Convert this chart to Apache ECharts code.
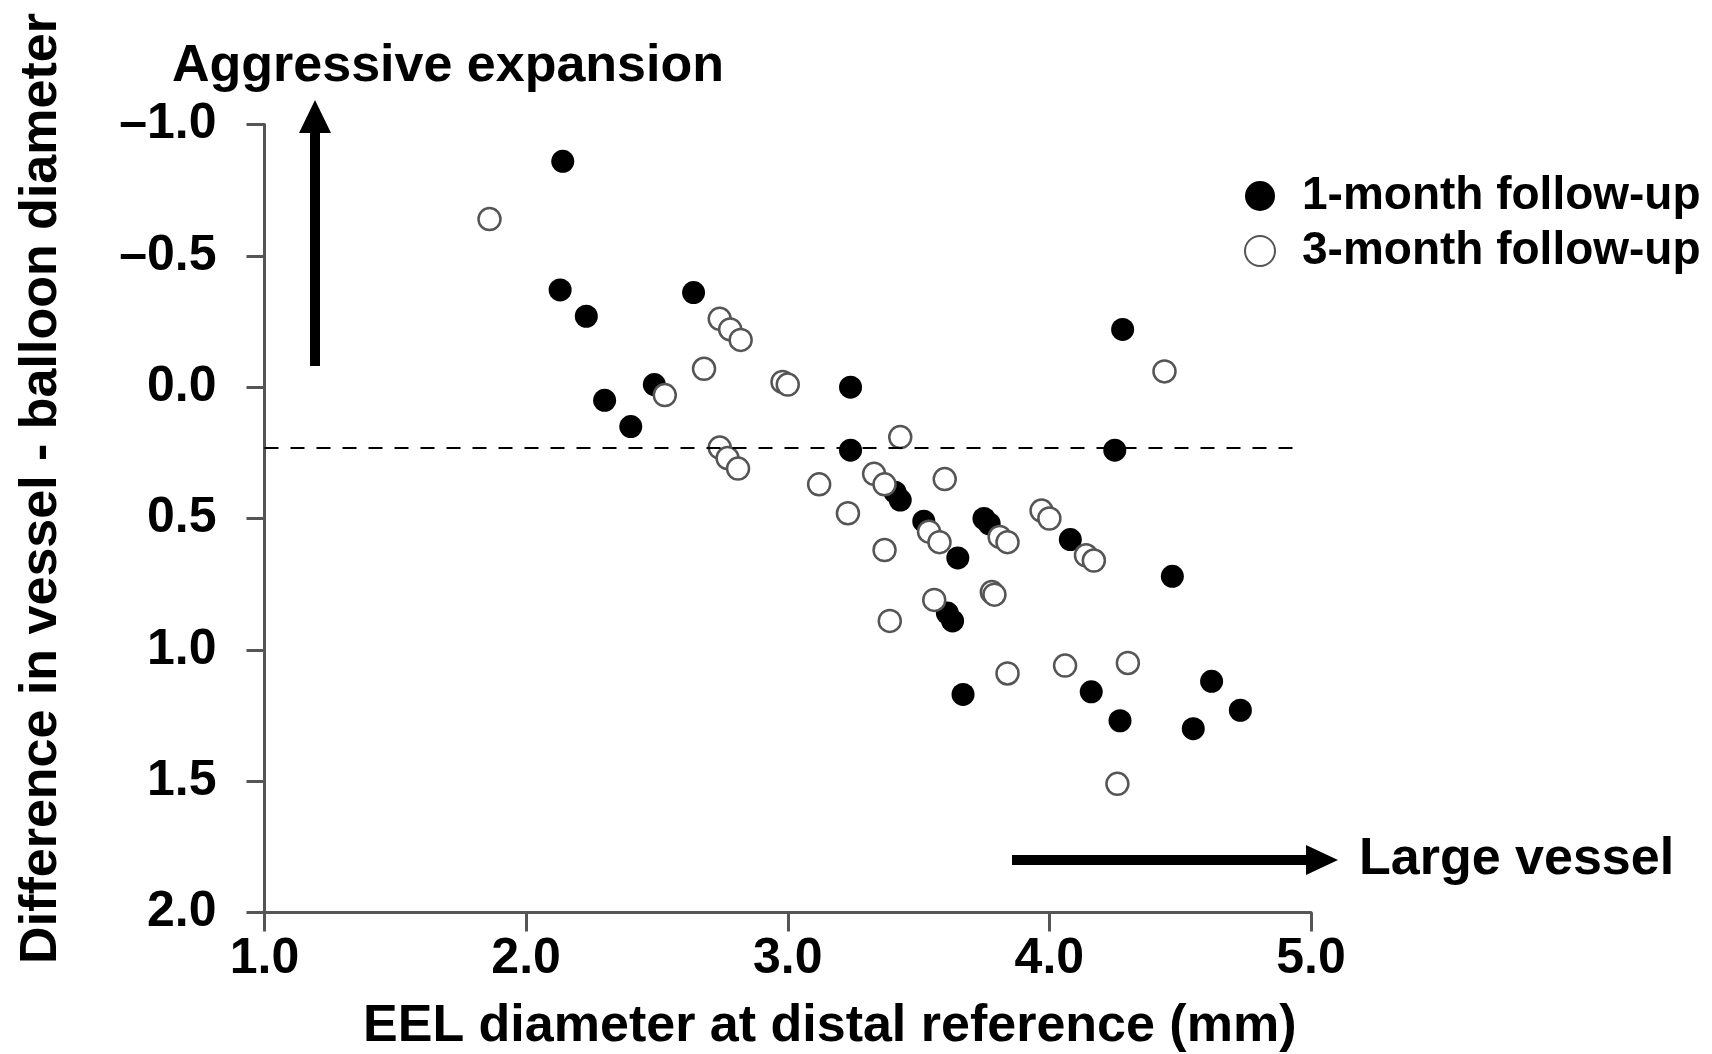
<!DOCTYPE html>
<html><head><meta charset="utf-8">
<script src="https://cdn.jsdelivr.net/npm/echarts@6/dist/echarts.min.js"></script>
<style>html,body{margin:0;padding:0;background:#fff}#c{width:1712px;height:1054px}</style>
</head><body><div id="c"></div>
<script>
const seriesNames = ['1-month follow-up', '3-month follow-up'];
const oneMonthX = [2.14, 2.13, 2.23, 2.30, 2.40, 2.49, 2.64, 3.24, 3.24, 4.28, 4.25, 3.41, 3.43, 3.52, 3.65, 3.75, 3.77, 4.08, 4.47, 3.61, 3.63, 3.67, 4.16, 4.27, 4.62, 4.55, 4.73];
const oneMonthY = [-0.86, -0.37, -0.27, 0.05, 0.15, -0.01, -0.36, 0.00, 0.24, -0.22, 0.24, 0.40, 0.43, 0.51, 0.65, 0.50, 0.52, 0.58, 0.72, 0.86, 0.89, 1.17, 1.16, 1.27, 1.12, 1.30, 1.23];
const threeMonthX = [1.86, 2.53, 2.68, 2.74, 2.78, 2.82, 2.74, 2.77, 2.81, 2.98, 3.00, 3.43, 3.12, 3.23, 3.33, 3.37, 3.60, 3.37, 3.54, 3.58, 3.81, 3.84, 3.97, 4.00, 4.14, 4.17, 4.44, 3.56, 3.78, 3.79, 3.39, 3.84, 4.06, 4.30, 4.26];
const threeMonthY = [-0.64, 0.03, -0.07, -0.26, -0.22, -0.18, 0.23, 0.27, 0.31, -0.02, -0.01, 0.19, 0.37, 0.48, 0.33, 0.37, 0.35, 0.62, 0.55, 0.59, 0.57, 0.59, 0.47, 0.50, 0.64, 0.66, -0.06, 0.81, 0.78, 0.79, 0.89, 1.09, 1.06, 1.05, 1.51];
const referenceY = 0.23;
const referenceEndX = 4.94;
const xTickLabels = ['1.0', '2.0', '3.0', '4.0', '5.0'];
const yTickLabels = ['\u20131.0', '\u20130.5', '0.0', '0.5', '1.0', '1.5', '2.0'];
const xTitle = 'EEL diameter at distal reference (mm)';
const yTitle = 'Difference in vessel - balloon diameter';
const upNote = 'Aggressive expansion';
const rightNote = 'Large vessel';

const FONT = '"Liberation Sans", Arial, sans-serif';
const zip = (xs, ys) => xs.map((x, i) => [x, ys[i]]);
const axisGray = '#555';

const chart = echarts.init(document.getElementById('c'), null, {renderer: 'canvas'});
chart.setOption({
  backgroundColor: '#fff',
  animation: false,
  textStyle: {fontFamily: FONT},
  grid: {left: 264.5, right: 401, top: 124.5, bottom: 141.5, outerBoundsMode: 'none'},
  xAxis: {
    type: 'value', min: 1, max: 5, interval: 1,
    axisLine: {show: true, onZero: false, lineStyle: {color: axisGray, width: 3}},
    axisTick: {show: true, length: 19, lineStyle: {color: axisGray, width: 3}},
    splitLine: {show: false},
    axisLabel: {
      fontSize: 50, fontWeight: 'bold', color: '#000', fontFamily: FONT, margin: 22,
      formatter: v => xTickLabels[Math.round(v - 1)]
    },
    name: xTitle, nameLocation: 'middle', nameGap: 88,
    nameTextStyle: {fontSize: 52, fontWeight: 'bold', color: '#000', fontFamily: FONT, lineHeight: 52, padding: [0, 0, 0, 84]}
  },
  yAxis: {
    type: 'value', min: -1, max: 2, interval: 0.5, inverse: true,
    axisLine: {show: true, onZero: false, lineStyle: {color: axisGray, width: 3}},
    axisTick: {show: true, length: 18, lineStyle: {color: axisGray, width: 3}},
    splitLine: {show: false},
    axisLabel: {
      fontSize: 50, fontWeight: 'bold', color: '#000', fontFamily: FONT, margin: 48,
      formatter: v => yTickLabels[Math.round((v + 1) / 0.5)]
    },
    name: yTitle, nameLocation: 'middle', nameRotate: 90, nameGap: 197,
    nameTextStyle: {fontSize: 52, fontWeight: 'bold', color: '#000', fontFamily: FONT, lineHeight: 52, padding: [0, 0, 0, 60]}
  },
  legend: {
    orient: 'vertical', left: 1239, top: 168,
    itemWidth: 30, itemHeight: 30, itemGap: 9,
    data: seriesNames,
    textStyle: {fontSize: 46, fontWeight: 'bold', color: '#000', fontFamily: FONT, lineHeight: 46, padding: [0, 0, 0, 22]}
  },
  series: [
    {
      name: seriesNames[0], type: 'scatter', symbol: 'circle', symbolSize: 23,
      itemStyle: {color: '#000', opacity: 1},
      data: zip(oneMonthX, oneMonthY),
      z: 2,
      markLine: {
        silent: true, symbol: 'none', animation: false,
        label: {show: false},
        lineStyle: {type: [14, 12], color: '#000', width: 2},
        data: [[{coord: [1, referenceY]}, {coord: [referenceEndX, referenceY]}]]
      }
    },
    {
      name: seriesNames[1], type: 'scatter', symbol: 'circle', symbolSize: 22,
      itemStyle: {color: '#fff', borderColor: '#555', borderWidth: 2.5, opacity: 1},
      data: zip(threeMonthX, threeMonthY),
      z: 3
    }
  ],
  graphic: [
    {type: 'polygon', shape: {points: [[310, 366], [310, 133], [299, 133], [315, 100], [331, 133], [320, 133], [320, 366]]}, style: {fill: '#000'}},
    {type: 'polygon', shape: {points: [[1012, 855], [1306, 855], [1306, 845], [1338, 860], [1306, 875], [1306, 865], [1012, 865]]}, style: {fill: '#000'}},
    {type: 'text', left: 172, top: 41, style: {text: upNote, fontSize: 52, fontWeight: 'bold', fill: '#000', fontFamily: FONT}},
    {type: 'text', left: 1359, top: 834, style: {text: rightNote, fontSize: 52, fontWeight: 'bold', fill: '#000', fontFamily: FONT}}
  ]
});
</script></body></html>
